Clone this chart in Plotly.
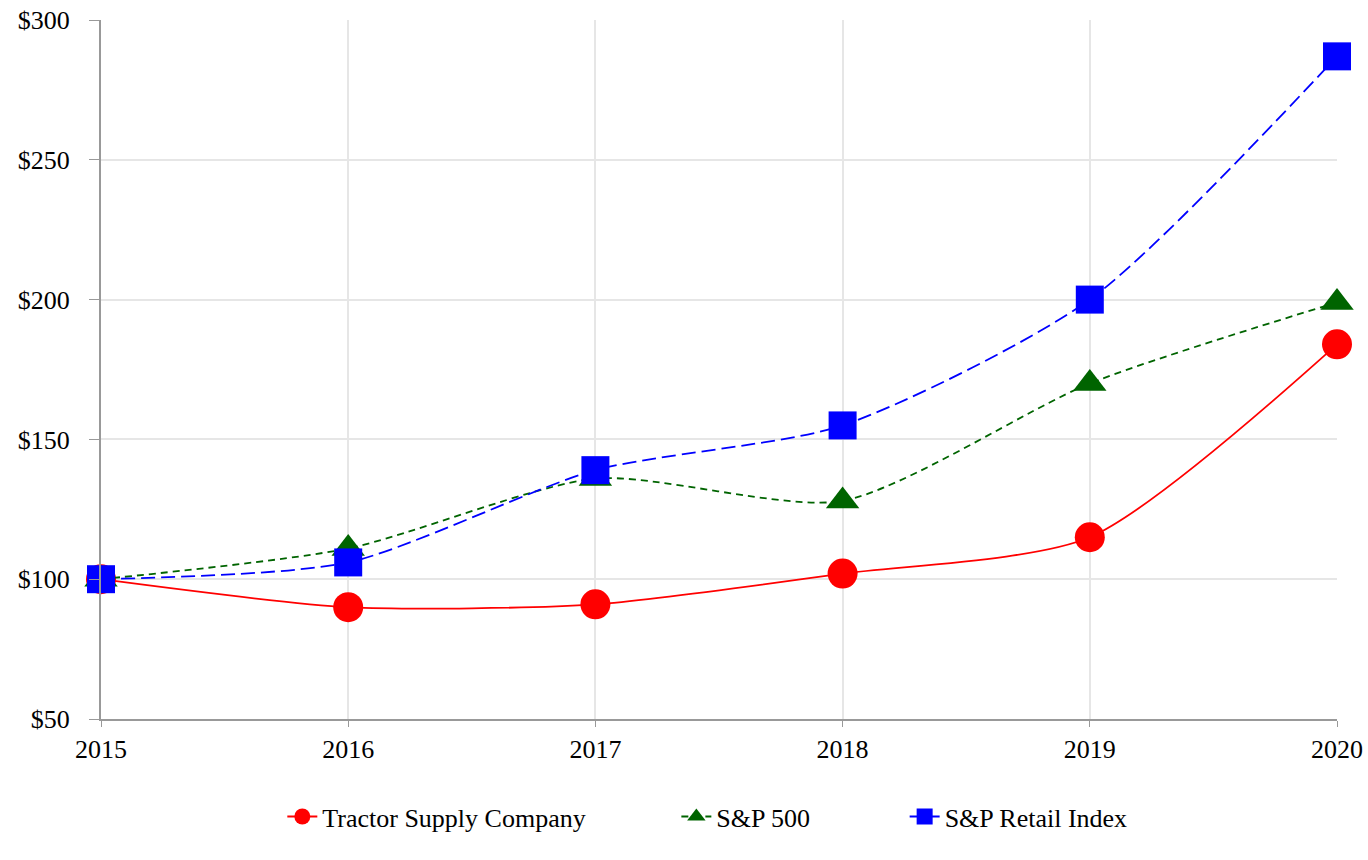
import plotly.graph_objects as go

years = [2015, 2016, 2017, 2018, 2019, 2020]
tractor = [100, 90, 91, 102, 115, 184]
sp500 = [100, 111, 136, 128, 170, 199]
retail = [100, 106, 139, 155, 200, 287]
y_ticks = [50, 100, 150, 200, 250, 300]
y_labels = ["$50", "$100", "$150", "$200", "$250", "$300"]

fig = go.Figure()
fig.add_trace(go.Scatter(x=years, y=tractor, name="Tractor Supply Company", mode="lines+markers",
                         line=dict(color="#ff0000", width=1.8, shape="spline", smoothing=0.7),
                         marker=dict(symbol="circle", size=30, color="#ff0000"), legend="legend",
                         cliponaxis=False))
fig.add_trace(go.Scatter(x=years, y=sp500, name="S&P 500", mode="lines+markers",
                         line=dict(color="#006400", width=1.8, shape="spline", dash="7px,5px", smoothing=0.7),
                         marker=dict(symbol="triangle-up", size=29, color="#006400"), legend="legend2",
                         cliponaxis=False))
fig.add_trace(go.Scatter(x=years, y=retail, name="S&P Retail Index", mode="lines+markers",
                         line=dict(color="#0000ff", width=1.8, shape="spline", dash="14px,6px", smoothing=0.7),
                         marker=dict(symbol="square", size=28, color="#0000ff"), legend="legend3",
                         cliponaxis=False))

leg_common = dict(orientation="h", y=-0.106, yanchor="top", xanchor="left",
                  font=dict(size=26), itemsizing="trace", bgcolor="rgba(0,0,0,0)")

fig.update_layout(
    width=1368, height=860,
    margin=dict(l=101, r=31, t=20, b=141, autoexpand=False),
    paper_bgcolor="white", plot_bgcolor="white",
    font=dict(family="Liberation Serif", size=26, color="black"),
    showlegend=True,
    legend=dict(x=0.1467, **leg_common),
    legend2=dict(x=0.4655, **leg_common),
    legend3=dict(x=0.6502, **leg_common),
    xaxis=dict(range=[2015, 2020], tickvals=years, showgrid=True, gridcolor="#e6e6e6", gridwidth=1.5,
               showline=True, linecolor="#999999", linewidth=2, ticks="outside", ticklen=6,
               tickcolor="#999999", zeroline=False, ticklabeloverflow="allow", automargin=False),
    yaxis=dict(range=[50, 300], tickvals=y_ticks, ticktext=y_labels, showgrid=True, gridcolor="#e6e6e6",
               gridwidth=1.5, showline=True, linecolor="#999999", linewidth=2, ticks="outside", ticklen=10,
               tickcolor="#999999", zeroline=False, ticklabelstandoff=14, ticklabeloverflow="allow",
               automargin=False),
)
fig.write_html("out.html", post_script="document.body.style.margin='0';",
               config={"displayModeBar": False})
